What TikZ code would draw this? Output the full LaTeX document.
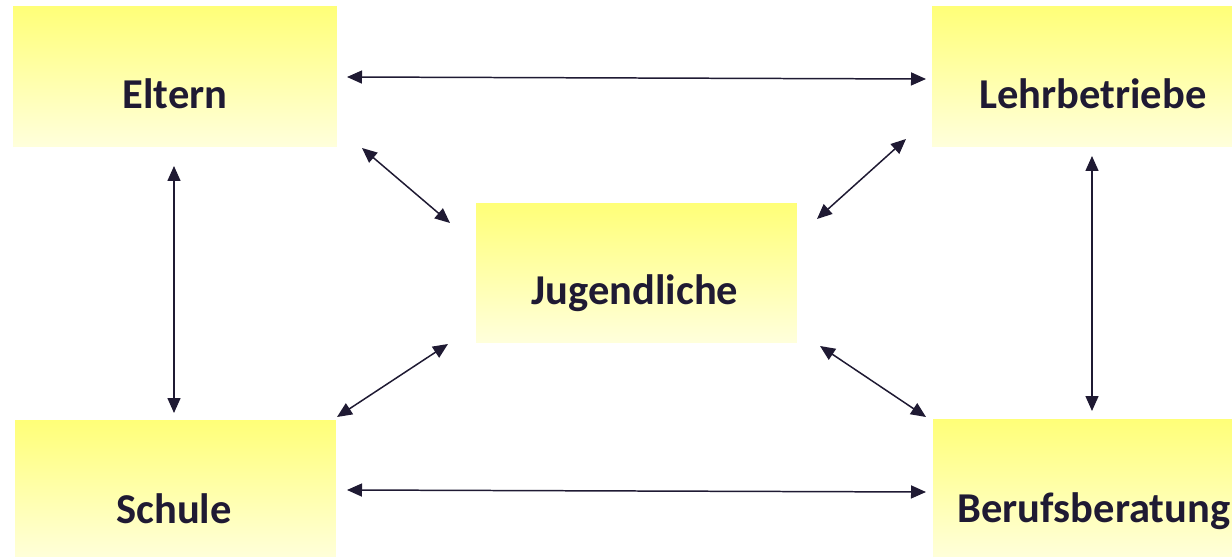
\documentclass[tikz,border=0pt]{standalone}
\usepackage{fontspec}
\setmainfont{Carlito}
\usetikzlibrary{arrows.meta}
\definecolor{ink}{HTML}{1F1A33}
\definecolor{ytop}{HTML}{FFFF78}
\definecolor{ybot}{HTML}{FFFFDC}
\tikzset{
  box/.style={draw=none, inner sep=0pt, top color=ytop, bottom color=ybot, shading angle=0},
  lbl/.style={anchor=base, inner sep=0pt, text=ink, font=\fontsize{24.2pt}{28pt}\selectfont\bfseries},
  link/.style={draw=ink, line width=0.85pt, {Triangle[length=0.3cm,width=0.26cm]}-{Triangle[length=0.3cm,width=0.26cm]}}
}
\begin{document}
\begin{tikzpicture}[x=0.02cm,y=-0.02cm]
\useasboundingbox (0,0) rectangle (1232,557);
\fill[white] (0,0) rectangle (1232,557);
\begin{scope}
\clip (0,0) rectangle (1232,557);
\node[box, minimum width=6.48cm, minimum height=2.82cm] (eltern) at (175,76.5) {};
\node[box, minimum width=6.48cm, minimum height=2.82cm] (lehr) at (1094,76.5) {};
\node[box, minimum width=6.42cm, minimum height=2.80cm] (jug) at (636.5,273) {};
\node[box, minimum width=6.42cm, minimum height=2.82cm] (schule) at (175.5,490.5) {};
\node[box, minimum width=6.48cm, minimum height=2.82cm] (beruf) at (1095,489.5) {};
\end{scope}
\node[lbl] (teltern) at (175,109) {Eltern};
\node[lbl] (tlehr) at (1093,109) {Lehrbetriebe};
\node[lbl] (tjug) at (635,305) {Jugendliche};
\node[lbl] (tschule) at (174,523) {Schule};
\node[lbl] (tberuf) at (1094,522) {Berufsberatung};
% arrow end points
\coordinate (a1) at (347,77);   \coordinate (a2) at (926,79);
\coordinate (b1) at (347,490);  \coordinate (b2) at (926,492);
\coordinate (c1) at (174,166);  \coordinate (c2) at (174,413);
\coordinate (d1) at (1092,156); \coordinate (d2) at (1092,411);
\coordinate (e1) at (362,148);  \coordinate (e2) at (450,223);
\coordinate (f1) at (906,139);  \coordinate (f2) at (817,219);
\coordinate (g1) at (448,344);  \coordinate (g2) at (337,417);
\coordinate (h1) at (820,346);  \coordinate (h2) at (926,417);
\draw[link] (a1) -- (a2);
\draw[link] (b1) -- (b2);
\draw[link] (c1) -- (c2);
\draw[link] (d1) -- (d2);
\draw[link] (e1) -- (e2);
\draw[link] (f1) -- (f2);
\draw[link] (g1) -- (g2);
\draw[link] (h1) -- (h2);
\end{tikzpicture}
\end{document}
